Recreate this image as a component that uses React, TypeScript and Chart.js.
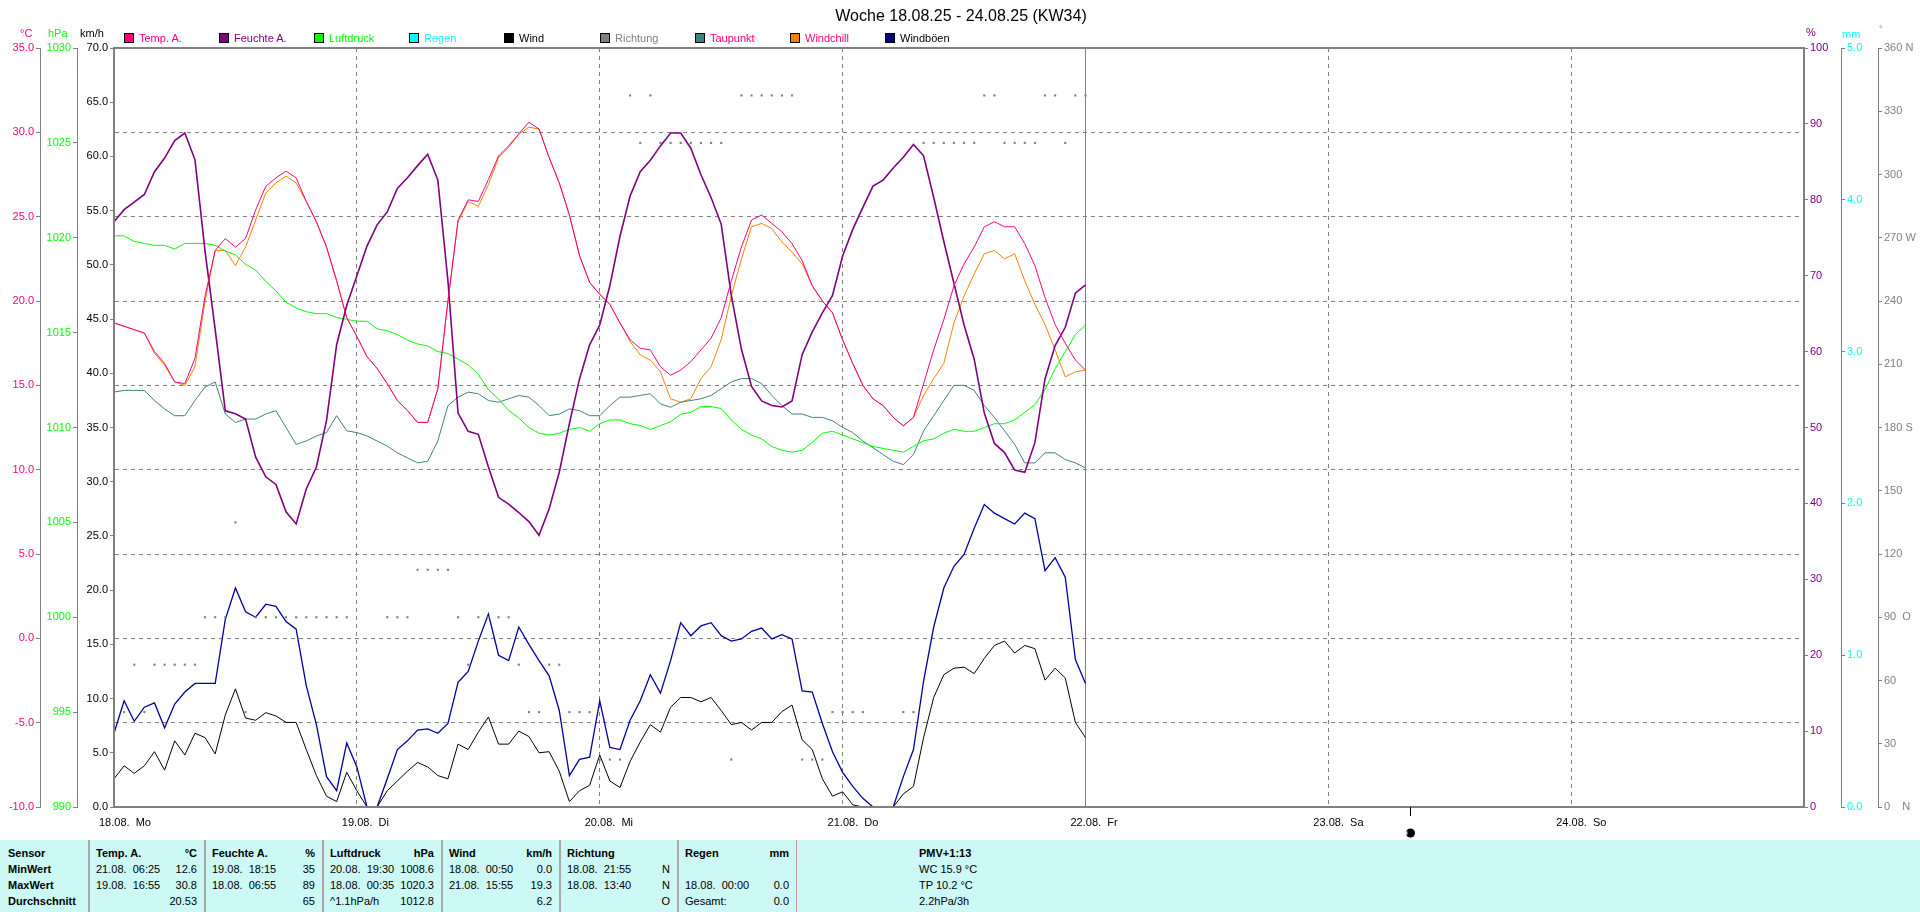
import React, { useEffect, useRef } from 'react';
import { Chart, registerables } from 'chart.js';

Chart.register(...registerables);

const FONT = "'Liberation Sans', Arial, Helvetica, sans-serif";

// ---- time axis (hours since 18.08.25 00:00) ----
const STEP_H = 1;
const X_MAX = 167;
const DAY_TICKS = [0, 24, 48, 72, 96, 120, 144];
const DAY_LABELS = ['18.08.  Mo', '19.08.  Di', '20.08.  Mi', '21.08.  Do', '22.08.  Fr', '23.08.  Sa', '24.08.  So'];
const NOW_H = 96;
const MOON_H = 128.1;

// ---- series (hourly) ----
const TEMP = [18.7, 18.5, 18.3, 18.1, 17.0, 16.3, 15.2, 15.1, 16.6, 20.3, 23.0, 23.7, 23.2, 23.7, 25.4, 26.8, 27.3, 27.7, 27.3, 25.9, 24.7, 23.2, 21.2, 19.0, 17.9, 16.7, 16.0, 15.1, 14.1, 13.5, 12.8, 12.8, 14.8, 20.0, 24.8, 26.0, 25.9, 27.2, 28.6, 29.2, 29.9, 30.6, 30.2, 28.5, 27.0, 25.1, 22.7, 21.1, 20.4, 19.8, 18.7, 17.7, 17.2, 17.1, 16.1, 15.6, 15.9, 16.4, 17.1, 17.8, 19.0, 21.2, 23.2, 24.8, 25.1, 24.6, 24.1, 23.4, 22.4, 20.9, 20.0, 19.3, 17.7, 16.3, 15.0, 14.2, 13.8, 13.1, 12.6, 13.1, 15.1, 17.1, 18.9, 20.9, 22.2, 23.2, 24.4, 24.7, 24.4, 24.4, 23.4, 22.1, 20.2, 18.6, 17.5, 16.5, 15.9];
const WINDCHILL = [18.7, 18.5, 18.3, 18.1, 16.9, 16.2, 15.2, 15.0, 16.1, 20.0, 23.0, 23.0, 22.1, 23.2, 24.8, 26.4, 27.0, 27.4, 27.0, 25.9, 24.7, 23.2, 21.2, 19.0, 17.9, 16.7, 16.0, 15.1, 14.1, 13.5, 12.8, 12.8, 14.8, 20.0, 24.7, 25.9, 25.6, 26.9, 28.5, 29.1, 29.9, 30.3, 30.2, 28.5, 27.0, 25.1, 22.7, 21.1, 20.4, 19.8, 18.7, 17.6, 16.8, 16.5, 15.8, 14.2, 14.0, 14.2, 15.4, 16.1, 17.7, 20.3, 22.5, 24.4, 24.6, 24.3, 23.5, 22.9, 22.2, 20.9, 20.0, 19.3, 17.7, 16.3, 15.0, 14.2, 13.8, 13.1, 12.6, 13.1, 14.4, 15.4, 16.3, 18.7, 20.3, 21.6, 22.8, 23.0, 22.5, 22.8, 21.2, 19.8, 18.6, 17.1, 15.5, 15.8, 15.9];
const HUMID = [77.1, 78.7, 79.7, 80.7, 83.7, 85.5, 87.8, 88.8, 85.3, 73.2, 62.9, 52.2, 51.8, 51.1, 46.1, 43.5, 42.5, 38.9, 37.3, 41.9, 44.8, 50.9, 60.9, 66.1, 70.0, 73.9, 76.7, 78.4, 81.5, 82.9, 84.5, 86.0, 82.6, 69.3, 51.9, 49.5, 49.1, 44.8, 40.8, 39.9, 38.8, 37.6, 35.8, 39.3, 44.1, 50.5, 56.4, 60.9, 63.5, 68.7, 75.2, 80.5, 83.7, 85.2, 87.1, 88.8, 88.8, 86.8, 83.3, 80.3, 76.8, 67.4, 60.3, 55.4, 53.5, 52.9, 52.7, 53.5, 59.6, 62.6, 65.1, 67.4, 72.6, 76.1, 79.0, 81.8, 82.6, 84.2, 85.6, 87.3, 85.8, 80.3, 74.5, 69.0, 63.5, 59.0, 51.9, 47.9, 46.7, 44.4, 44.1, 48.0, 56.4, 60.8, 63.2, 67.7, 68.8];
const PRESS = [1020.1, 1020.1, 1019.8, 1019.7, 1019.6, 1019.6, 1019.4, 1019.7, 1019.7, 1019.7, 1019.6, 1019.3, 1019.1, 1018.6, 1018.3, 1017.7, 1017.2, 1016.6, 1016.3, 1016.1, 1016.0, 1016.0, 1015.8, 1015.7, 1015.6, 1015.6, 1015.2, 1015.1, 1014.9, 1014.6, 1014.4, 1014.3, 1014.0, 1013.9, 1013.6, 1013.3, 1012.8, 1012.0, 1011.5, 1010.9, 1010.5, 1010.0, 1009.7, 1009.6, 1009.7, 1009.9, 1010.0, 1009.8, 1010.2, 1010.4, 1010.4, 1010.2, 1010.1, 1009.9, 1010.1, 1010.3, 1010.7, 1010.8, 1011.1, 1011.1, 1011.0, 1010.4, 1009.9, 1009.6, 1009.4, 1009.0, 1008.8, 1008.7, 1008.8, 1009.2, 1009.7, 1009.8, 1009.6, 1009.4, 1009.2, 1009.0, 1008.9, 1008.8, 1008.7, 1009.0, 1009.3, 1009.4, 1009.7, 1009.9, 1009.8, 1009.8, 1010.0, 1010.2, 1010.2, 1010.4, 1010.8, 1011.2, 1012.0, 1013.1, 1014.0, 1014.9, 1015.4];
const DEWPOINT = [14.6, 14.7, 14.7, 14.7, 14.1, 13.6, 13.2, 13.2, 14.1, 14.9, 15.2, 13.3, 12.8, 13.0, 13.0, 13.3, 13.5, 12.5, 11.5, 11.7, 12.0, 12.2, 13.2, 12.3, 12.2, 12.0, 11.7, 11.4, 11.0, 10.7, 10.4, 10.5, 11.7, 13.8, 14.3, 14.6, 14.5, 14.1, 14.0, 14.2, 14.4, 14.3, 13.8, 13.2, 13.3, 13.6, 13.5, 13.2, 13.2, 13.8, 14.3, 14.3, 14.4, 14.5, 13.9, 13.7, 14.0, 14.1, 14.2, 14.4, 14.8, 15.2, 15.4, 15.4, 15.1, 14.4, 13.8, 13.3, 13.3, 13.1, 13.1, 12.9, 12.5, 12.2, 11.7, 11.3, 10.9, 10.5, 10.3, 10.9, 12.3, 13.2, 14.1, 15.0, 15.0, 14.7, 13.8, 13.1, 12.3, 11.5, 10.4, 10.4, 11.0, 11.0, 10.6, 10.4, 10.1];
const WIND = [2.6, 3.8, 3.1, 3.8, 5.1, 3.4, 6.1, 4.8, 6.8, 6.4, 4.9, 8.5, 10.9, 8.2, 8.0, 8.7, 8.4, 7.8, 7.8, 5.3, 2.9, 1.0, 0.5, 3.2, 1.5, 0.0, 0.0, 1.5, 2.4, 3.3, 4.1, 3.7, 2.9, 2.6, 5.8, 5.3, 6.9, 8.3, 5.8, 5.8, 7.0, 6.5, 5.0, 5.1, 3.3, 0.5, 1.5, 2.0, 4.8, 2.4, 1.8, 4.2, 6.0, 7.6, 6.9, 9.2, 10.1, 10.1, 9.7, 10.1, 8.9, 7.6, 7.8, 7.1, 7.8, 7.8, 8.8, 9.4, 6.2, 5.3, 2.6, 1.0, 1.4, 0.2, 0.0, 0.0, 0.0, 0.0, 1.2, 1.9, 6.4, 10.1, 12.2, 12.8, 12.9, 12.3, 13.7, 14.9, 15.3, 14.2, 14.9, 14.6, 11.7, 12.8, 11.9, 7.8, 6.4];
const GUST = [6.8, 9.8, 7.9, 9.2, 9.6, 7.3, 9.5, 10.6, 11.4, 11.4, 11.4, 17.3, 20.2, 18.0, 17.5, 18.7, 18.5, 17.1, 16.4, 11.2, 7.6, 2.8, 1.5, 5.9, 3.7, 0.0, 0.0, 2.6, 5.3, 6.1, 7.1, 7.2, 6.8, 7.7, 11.5, 12.5, 15.3, 17.8, 14.0, 13.5, 16.6, 15.0, 13.5, 12.1, 8.9, 2.9, 4.4, 4.6, 9.8, 5.5, 5.3, 8.0, 9.8, 12.2, 10.5, 13.5, 17.0, 15.8, 16.7, 17.0, 15.8, 15.3, 15.5, 16.2, 16.5, 15.5, 15.9, 15.5, 10.7, 10.6, 7.7, 5.1, 3.2, 1.9, 0.8, 0.0, 0.0, 0.0, 2.8, 5.3, 11.6, 16.6, 20.2, 22.2, 23.3, 25.7, 27.9, 27.1, 26.6, 26.1, 27.1, 26.6, 21.8, 23.0, 21.2, 13.6, 11.4];
const DIRECTION = [45, 45, 67.5, 45, 67.5, 67.5, 67.5, 67.5, 67.5, 90, 90, 90, 135, 45, 90, 90, 90, 90, 90, 90, 90, 90, 90, 90, 0, 0, 0, 90, 90, 90, 112.5, 112.5, 112.5, 112.5, 90, 67.5, 90, 90, 90, 90, 67.5, 45, 45, 67.5, 67.5, 45, 45, 45, 22.5, 22.5, 22.5, 337.5, 315, 337.5, 315, 315, 315, 315, 315, 315, 315, 22.5, 337.5, 337.5, 337.5, 337.5, 337.5, 337.5, 22.5, 22.5, 22.5, 45, 45, 45, 45, 0, 0, 0, 45, 45, 315, 315, 315, 315, 315, 315, 337.5, 337.5, 315, 315, 315, 315, 337.5, 337.5, 315, 337.5, 337.5];
const RAIN = [0, 0, 0, 0, 0, 0, 0, 0, 0, 0, 0, 0, 0, 0, 0, 0, 0, 0, 0, 0, 0, 0, 0, 0, 0, 0, 0, 0, 0, 0, 0, 0, 0, 0, 0, 0, 0, 0, 0, 0, 0, 0, 0, 0, 0, 0, 0, 0, 0, 0, 0, 0, 0, 0, 0, 0, 0, 0, 0, 0, 0, 0, 0, 0, 0, 0, 0, 0, 0, 0, 0, 0, 0, 0, 0, 0, 0, 0, 0, 0, 0, 0, 0, 0, 0, 0, 0, 0, 0, 0, 0, 0, 0, 0, 0, 0, 0];

// ---- axis ranges ----
const T_MIN = -10, T_MAX = 35;
const DEG_LABELS: Record<number, string> = { 360: '360 N', 270: '270 W', 180: '180 S', 90: '90  O', 0: '0    N' };

// ---- colours ----
const C_TEMP = '#FF0080';
const C_HUM = '#800080';
const C_PRESS = '#00FF00';
const C_RAIN = '#00FFFF';
const C_WIND = '#000000';
const C_DIR = '#808080';
const C_DEW = '#408080';
const C_WC = '#FF8000';
const C_GUST = '#0000A0';

const LEGEND = [
  { label: 'Temp. A.', box: C_TEMP, text: C_TEMP },
  { label: 'Feuchte A.', box: C_HUM, text: C_HUM },
  { label: 'Luftdruck', box: C_PRESS, text: C_PRESS },
  { label: 'Regen', box: C_RAIN, text: C_RAIN },
  { label: 'Wind', box: '#000000', text: '#000000' },
  { label: 'Richtung', box: '#808080', text: '#808080' },
  { label: 'Taupunkt', box: C_DEW, text: C_TEMP },
  { label: 'Windchill', box: C_WC, text: C_TEMP },
  { label: 'Windböen', box: '#000080', text: '#000000' },
];

// ---- statistics table ----
const TABLE_SEPS = [88, 204, 322, 441, 559, 677, 796];
const ROW_LABELS = ['Sensor', 'MinWert', 'MaxWert', 'Durchschnitt'];
const TABLE_HEAD = [['Temp. A.', '°C'], ['Feuchte A.', '%'], ['Luftdruck', 'hPa'], ['Wind', 'km/h'], ['Richtung', ''], ['Regen', 'mm']];
const TABLE_MIN = [['21.08.  06:25', '12.6'], ['19.08.  18:15', '35'], ['20.08.  19:30', '1008.6'], ['18.08.  00:50', '0.0'], ['18.08.  21:55', 'N'], ['', '']];
const TABLE_MAX = [['19.08.  16:55', '30.8'], ['18.08.  06:55', '89'], ['18.08.  00:35', '1020.3'], ['21.08.  15:55', '19.3'], ['18.08.  13:40', 'N'], ['18.08.  00:00', '0.0']];
const TABLE_AVG = [['', '20.53'], ['', '65'], ['^1.1hPa/h', '1012.8'], ['', '6.2'], ['', 'O'], ['Gesamt:', '0.0']];
const PMV_LINES = ['PMV+1:13', 'WC 15.9 °C', 'TP 10.2 °C', '2.2hPa/3h'];

const toXY = (arr: (number | null)[]) => arr.map((v, i) => ({ x: i * STEP_H, y: v }));

const framePlugin = {
  id: 'frameAndMoon',
  afterDatasetsDraw(chart: any) {
    const { ctx, chartArea: a, scales } = chart;
    ctx.save();
    ctx.strokeStyle = '#808080';
    ctx.lineWidth = 2;
    ctx.strokeRect(a.left, a.top, a.right - a.left, a.bottom - a.top);
    const mx = Math.round(scales.x.getPixelForValue(MOON_H)) + 0.5;
    ctx.strokeStyle = '#000';
    ctx.lineWidth = 1;
    ctx.beginPath();
    ctx.moveTo(mx, a.bottom);
    ctx.lineTo(mx, a.bottom + 9);
    ctx.stroke();
    ctx.fillStyle = '#000';
    ctx.beginPath();
    ctx.arc(mx, a.bottom + 26, 4.5, 0, Math.PI * 2);
    ctx.fill();
    ctx.fillStyle = '#fff';
    ctx.beginPath();
    ctx.arc(mx - 2.5, a.bottom + 26, 2, Math.PI * 0.6, Math.PI * 1.4);
    ctx.fill();
    ctx.restore();
  },
};

function yAxis(position: string, weight: number, width: number, color: string, min: number, max: number, step: number, fmt: (v: number) => string, gridOnChart: boolean) {
  return {
    type: 'linear',
    position,
    weight,
    min,
    max,
    ticks: {
      stepSize: step,
      maxTicksLimit: 100,
      autoSkip: false,
      color,
      padding: 2,
      font: { family: FONT, size: 11 },
      callback: (v: any) => fmt(Number(v)),
    },
    grid: {
      drawOnChartArea: gridOnChart,
      color: '#808080',
      lineWidth: 1,
      drawTicks: true,
      tickLength: 4,
      tickColor: '#808080',
      tickWidth: 1,
    },
    border: { display: true, color: '#808080', width: 1, dash: gridOnChart ? [4, 4] : [] },
    afterFit: (s: any) => {
      s.width = width;
    },
  };
}

function Txt(props: { x: number; y: number; text: string; color?: string; size?: number; bold?: boolean; align?: 'left' | 'right' | 'center' }) {
  const { x, y, text, color = '#000', size = 11, bold = false, align = 'left' } = props;
  const lh = Math.round(size * 1.3);
  const style: React.CSSProperties = {
    position: 'absolute',
    top: y - lh / 2,
    lineHeight: `${lh}px`,
    fontSize: size,
    color,
    fontWeight: bold ? 'bold' : 'normal',
    whiteSpace: 'pre',
  };
  if (align === 'right') style.right = 1920 - x;
  else if (align === 'center') {
    style.left = x;
    style.transform = 'translateX(-50%)';
  } else style.left = x;
  return <div style={style}>{text}</div>;
}

export default function App() {
  const ref = useRef<HTMLCanvasElement>(null);

  useEffect(() => {
    const canvas = ref.current;
    if (!canvas) return;
    Chart.defaults.font.family = FONT;
    Chart.defaults.font.size = 11;
    const line = (label: string, data: number[], color: string, axis: string, width = 1) => ({
      label,
      data: toXY(data),
      yAxisID: axis,
      borderColor: color,
      backgroundColor: color,
      borderWidth: width,
      pointRadius: 0,
      tension: 0,
      fill: false,
    });
    const chart = new Chart(canvas, {
      type: 'line',
      data: {
        datasets: [
          line('Temp. A.', TEMP, C_TEMP, 'yT'),
          line('Feuchte A.', HUMID, C_HUM, 'yH', 1.6),
          line('Luftdruck', PRESS, C_PRESS, 'yP'),
          line('Regen', RAIN, C_RAIN, 'yR'),
          line('Wind', WIND, C_WIND, 'yW'),
          {
            label: 'Richtung',
            data: toXY(DIRECTION),
            yAxisID: 'yD',
            showLine: false,
            pointStyle: 'rect',
            pointRadius: 1.5,
            pointBorderWidth: 0,
            pointBackgroundColor: C_DIR,
            borderColor: C_DIR,
            backgroundColor: C_DIR,
          },
          line('Taupunkt', DEWPOINT, C_DEW, 'yT'),
          line('Windchill', WINDCHILL, C_WC, 'yT'),
          line('Windböen', GUST, C_GUST, 'yW', 1.3),
          {
            label: 'jetzt',
            data: [
              { x: NOW_H, y: T_MIN },
              { x: NOW_H, y: T_MAX },
            ],
            yAxisID: 'yT',
            borderColor: '#808080',
            borderWidth: 1,
            pointRadius: 0,
          },
        ],
      } as any,
      options: {
        responsive: false,
        animation: false,
        devicePixelRatio: 1,
        events: [],
        layout: { padding: { top: 48, left: 0, right: 0, bottom: 0 } },
        plugins: { legend: { display: false }, title: { display: false }, tooltip: { enabled: false } },
        scales: {
          x: {
            type: 'linear',
            min: 0,
            max: X_MAX,
            afterBuildTicks: (s: any) => {
              s.ticks = DAY_TICKS.map((v) => ({ value: v }));
            },
            ticks: {
              autoSkip: false,
              maxRotation: 0,
              minRotation: 0,
              align: 'start',
              labelOffset: -15,
              padding: 9,
              color: '#000',
              font: { family: FONT, size: 11 },
              callback: (v: any) => {
                const i = DAY_TICKS.indexOf(Number(v));
                return i >= 0 ? DAY_LABELS[i] : '';
              },
            },
            grid: {
              drawTicks: false,
              color: (c: any) => (c.tick && c.tick.value === NOW_H ? 'rgba(0,0,0,0)' : '#808080'),
              lineWidth: 1,
            },
            border: { display: false, dash: [4, 4] },
            afterFit: (s: any) => {
              s.height = 33;
            },
          },
          yT: yAxis('left', 2, 40, C_TEMP, T_MIN, T_MAX, 5, (v) => v.toFixed(1), true),
          yP: yAxis('left', 1, 37, C_PRESS, 990, 1030, 5, (v) => String(Math.round(v)), false),
          yW: yAxis('left', 0, 37, '#000000', 0, 70, 5, (v) => v.toFixed(1), false),
          yH: yAxis('right', 0, 37, C_HUM, 0, 100, 10, (v) => String(Math.round(v)), false),
          yR: yAxis('right', 1, 37, C_RAIN, 0, 5, 1, (v) => v.toFixed(1), false),
          yD: yAxis('right', 2, 42, '#808080', 0, 360, 30, (v) => DEG_LABELS[v] ?? String(v), false),
        },
      } as any,
      plugins: [framePlugin],
    });
    return () => chart.destroy();
  }, []);

  const rows = [TABLE_MIN, TABLE_MAX, TABLE_AVG];
  const rowY = [853, 869, 885, 901];

  return (
    <div style={{ position: 'absolute', left: 0, top: 0, width: 1920, height: 912, overflow: 'hidden', background: '#fff', fontFamily: FONT, fontSize: 11 }}>
      <canvas ref={ref} width={1920} height={840} style={{ position: 'absolute', left: 0, top: 0, width: 1920, height: 840 }} />

      <Txt x={961} y={15} text="Woche 18.08.25 - 24.08.25 (KW34)" size={16} align="center" />

      <Txt x={20} y={33} text="°C" color={C_TEMP} />
      <Txt x={48} y={33} text="hPa" color={C_PRESS} />
      <Txt x={80} y={33} text="km/h" color="#000" />
      <Txt x={1806} y={32} text="%" color={C_HUM} />
      <Txt x={1842} y={34} text="mm" color={C_RAIN} />
      <Txt x={1879} y={29} text="°" color="#808080" size={9} />

      {LEGEND.map((l, i) => {
        const left = Math.round(124 + 95.1 * i);
        return (
          <React.Fragment key={l.label}>
            <div style={{ position: 'absolute', left, top: 33, width: 8, height: 8, background: l.box, border: '1px solid #000' }} />
            <Txt x={left + 15} y={38} text={l.label} color={l.text} />
          </React.Fragment>
        );
      })}

      <div style={{ position: 'absolute', left: 0, top: 840, width: 1920, height: 72, background: '#ccf9f5' }} />
      {TABLE_SEPS.map((s, i) => (
        <div key={'sep' + i} style={{ position: 'absolute', left: s, top: 840, width: i === TABLE_SEPS.length - 1 ? 1 : 2, height: 72, background: i === TABLE_SEPS.length - 1 ? '#b89a9a' : '#a8a8a8' }} />
      ))}
      {ROW_LABELS.map((r, i) => (
        <Txt key={r} x={8} y={rowY[i]} text={r} bold />
      ))}
      {TABLE_HEAD.map((h, c) => (
        <React.Fragment key={'h' + c}>
          <Txt x={TABLE_SEPS[c] + 8} y={rowY[0]} text={h[0]} bold />
          <Txt x={TABLE_SEPS[c + 1] - 7} y={rowY[0]} text={h[1]} bold align="right" />
        </React.Fragment>
      ))}
      {rows.map((row, r) =>
        row.map((cell, c) => (
          <React.Fragment key={'r' + r + 'c' + c}>
            <Txt x={TABLE_SEPS[c] + 8} y={rowY[r + 1]} text={cell[0]} />
            <Txt x={TABLE_SEPS[c + 1] - 7} y={rowY[r + 1]} text={cell[1]} align="right" />
          </React.Fragment>
        ))
      )}
      {PMV_LINES.map((t, i) => (
        <Txt key={'pmv' + i} x={919} y={rowY[i]} text={t} bold={i === 0} />
      ))}
    </div>
  );
}
